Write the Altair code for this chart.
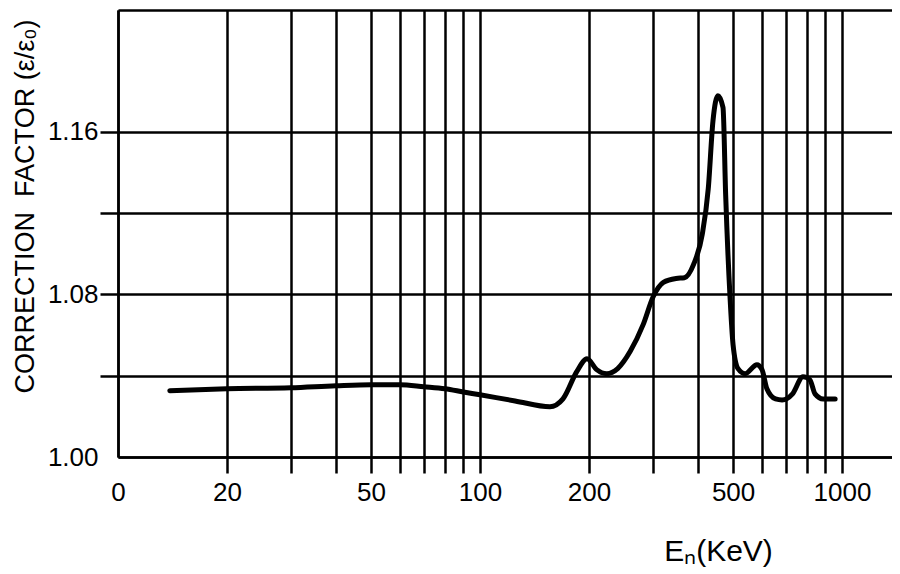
import altair as alt
import pandas as pd

# Neutron energy (keV) and correction factor
energy = [13.9, 20, 30, 40, 50, 60, 70, 80, 90, 100, 125, 156, 169.5, 185, 197.5,
          210, 224, 240, 260, 282, 301, 321, 348, 367, 389, 411, 427, 440, 454,
          469, 477, 490, 500, 516, 540, 582, 601, 620, 655, 683, 730, 780, 815,
          842, 887, 957]
factor = [1.0326, 1.0336, 1.0341, 1.0351, 1.0356, 1.0356, 1.0346, 1.0336, 1.0320,
          1.0306, 1.0276, 1.0247, 1.0286, 1.0420, 1.0484,
          1.0430, 1.0410, 1.0435, 1.0520, 1.0650, 1.0790, 1.0860, 1.0879, 1.0882,
          1.0948, 1.1096, 1.1320, 1.1654, 1.1778,
          1.1720, 1.1290, 1.0800, 1.0553, 1.0435, 1.0410, 1.0454, 1.0430, 1.0336,
          1.0286, 1.0281, 1.0311, 1.0395, 1.0380, 1.0311, 1.0286, 1.0286]

x_ticks = [10, 20, 30, 40, 50, 60, 70, 80, 90,
           100, 200, 300, 400, 500, 600, 700, 800, 900, 1000]
x_labels = {10: "0", 20: "20", 50: "50", 100: "100", 200: "200", 500: "500", 1000: "1000"}
y_ticks = [1.00, 1.04, 1.08, 1.12, 1.16]
y_labels = {1.00: "1.00", 1.08: "1.08", 1.16: "1.16"}

df = pd.DataFrame({"E": energy, "f": factor})

FONT = "Liberation Sans"

x_expr = " : ".join(
    f"round(datum.value) == {k} ? '{v}'" for k, v in x_labels.items()
) + " : ''"
y_expr = " : ".join(
    f"abs(datum.value - {k}) < 0.001 ? '{v}'" for k, v in y_labels.items()
) + " : ''"

x_scale = alt.Scale(type="log", domain=[10, 1374], nice=False, zero=False)
y_scale = alt.Scale(domain=[1.00, 1.22], nice=False, zero=False)

line = alt.Chart(df).mark_line(
    color="black", strokeWidth=5, interpolate="monotone", strokeCap="round"
).encode(
    x=alt.X("E:Q", scale=x_scale,
            axis=alt.Axis(
                orient="bottom", values=x_ticks, labelExpr=x_expr,
                grid=True, gridColor="black", gridWidth=2.5, gridOpacity=1,
                domain=True, domainColor="black", domainWidth=2.5,
                ticks=True, tickSize=16, tickWidth=2.5,
                tickColor={"condition": {"test": "datum.value < 11", "value": "transparent"}, "value": "black"},
                labelFont=FONT, labelFontSize=26, labelColor="black",
                labelPadding=6, labelFlush=False, labelOverlap=False,
                title="E\u2099(KeV)", titleFont=FONT, titleFontSize=30,
                titleFontWeight="normal", titleColor="black",
                titleX=600, titleY=103, titleAlign="center",
                titleBaseline="alphabetic")),
    y=alt.Y("f:Q", scale=y_scale,
            axis=alt.Axis(
                values=y_ticks, labelExpr=y_expr,
                grid=True, gridColor="black", gridWidth=2.5, gridOpacity=1,
                domain=True, domainColor="black", domainWidth=2.5,
                ticks=True, tickSize=18, tickWidth=2.5,
                tickColor={"condition": {"test": "datum.value < 1.001", "value": "transparent"}, "value": "black"},
                labelFont=FONT, labelFontSize=26, labelColor="black",
                labelPadding=2, labelFlush=False, labelOverlap=False,
                title="CORRECTION\u00a0\u00a0FACTOR (\u03b5/\u03b5\u2080)",
                titleFont=FONT, titleFontSize=27, titleFontWeight="normal",
                titleColor="black", titleAngle=270, titleX=-93, titleY=196,
                titleAlign="center", titleBaseline="middle")),
)

top = alt.Chart(df).mark_line(opacity=0).encode(
    x=alt.X("E:Q", scale=x_scale,
            axis=alt.Axis(orient="top", labels=False, ticks=False, grid=False,
                          domain=True, domainColor="black", domainWidth=2.5,
                          title=None)),
    y=alt.Y("f:Q", scale=y_scale),
)

chart = alt.layer(line, top).resolve_axis(x="independent").properties(
    width=774, height=447,
    autosize=alt.AutoSizeParams(type="none"),
    padding={"left": 110, "top": 2, "right": 0, "bottom": 115},
    background="white",
).configure_view(stroke=None)

chart.save("out.html", embed_options={"renderer": "svg", "actions": False})
